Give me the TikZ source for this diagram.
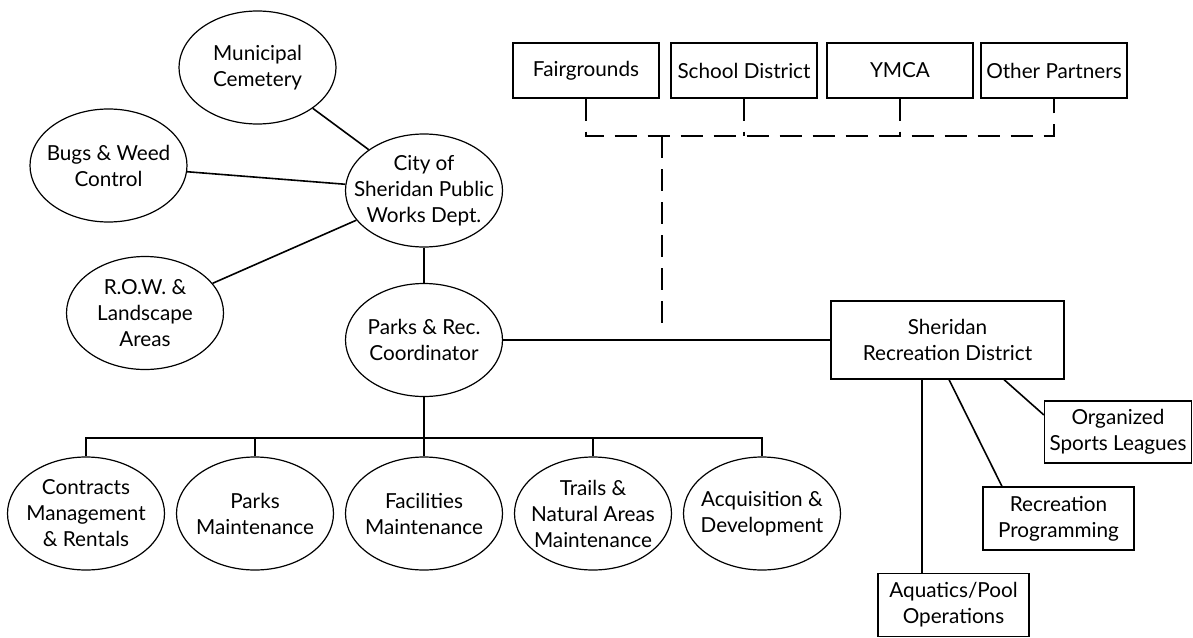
\documentclass[tikz,border=0pt]{standalone}
\usepackage{fontspec}
\setmainfont{Lato}
\usetikzlibrary{shapes}
\tikzset{>=latex}
\tikzset{
  unit/.style={draw=black, ellipse, line width=1.2pt, minimum width=157pt,
    minimum height=113pt, inner xsep=-20pt, inner ysep=0pt, align=center,
    font=\fontsize{20.7}{26}\selectfont},
  box/.style={draw=black, rectangle, line width=1.2pt, inner sep=0pt,
    align=center, font=\fontsize{20.7}{26}\selectfont},
  link/.style={draw=black, line width=1.6pt},
  dashlink/.style={link, dash pattern=on 22pt off 11pt}
}

\begin{document}
\begin{tikzpicture}[x=1pt, y=-1pt]
    \useasboundingbox (0,0) rectangle (1193,637);
    % public works side
    \node[unit] (cem) at (257.5,67.5) {Municipal\\Cemetery};
    \node[unit] (bugs) at (108.5,165.5) {Bugs \& Weed\\Control};
    \node[unit] (pw) at (424,190.5) {City of\\Sheridan Public\\Works Dept.};
    \node[unit] (row) at (145,313) {R.O.W. \&\\Landscape\\Areas};
    \node[unit] (coord) at (424,340) {Parks \& Rec.\\Coordinator};
    \draw[link] (cem) -- (pw);
    \draw[link] (bugs) -- (pw);
    \draw[link] (row) -- (pw);
    \draw[link] (pw) -- (coord);

    % maintenance units
    \node[unit] (contr) at (86,513.5) {Contracts\\Management\\\& Rentals};
    \node[unit] (parks) at (255,513.5) {Parks\\Maintenance};
    \node[unit] (facil) at (424,513.5) {Facilities\\Maintenance};
    \node[unit] (trails) at (593,513.5) {Trails \&\\Natural Areas\\Maintenance};
    \node[unit] (acq) at (762,513.5) {Acquisition \&\\Development};
    \coordinate (bus) at (424,438);
    \draw[link] (coord) -- (facil);
    \draw[link] (contr.north) |- (bus) -| (acq.north);
    \draw[link] (parks.north) -- (parks.north |- bus);
    \draw[link] (trails.north) -- (trails.north |- bus);

    % partners
    \node[box, minimum width=146pt, minimum height=55pt] (fair) at (586,70.5) {Fairgrounds};
    \node[box, minimum width=146pt, minimum height=55pt] (school) at (744,70.5) {School District};
    \node[box, minimum width=146pt, minimum height=55pt] (ymca) at (900,70.5) {YMCA};
    \node[box, minimum width=146pt, minimum height=55pt] (other) at (1054,70.5) {Other Partners};
    \coordinate (join) at (662,136);
    \coordinate (joinend) at (662,332);
    \draw[dashlink] (fair.south) |- (join) -| (other.south);
    \draw[dashlink] (school.south) -- (school.south |- join);
    \draw[dashlink] (ymca.south) -- (ymca.south |- join);
    \draw[dashlink] (join) -- (joinend);

    % recreation district
    \node[box, minimum width=233pt, minimum height=78pt] (srd) at (947.5,340) {Sheridan\\Recreation District};
    \node[box, minimum width=147pt, minimum height=62pt] (sports) at (1118,432) {Organized\\Sports Leagues};
    \node[box, minimum width=151pt, minimum height=63pt] (prog) at (1058.5,518.5) {Recreation\\Programming};
    \node[box, minimum width=151pt, minimum height=63pt] (aqua) at (953.5,605) {Aquatics/Pool\\Operations};
    \coordinate (aq) at (922,573);
    \draw[link] (coord) -- (srd);
    \draw[link] (aq) -- (aq |- srd.south);
    \draw[link] ([xshift=1.5pt]srd.south) -- ([xshift=-56.5pt]prog.north);
    \draw[link] ([xshift=56.5pt]srd.south) -- ([yshift=17pt]sports.west);
\end{tikzpicture}
\end{document}
